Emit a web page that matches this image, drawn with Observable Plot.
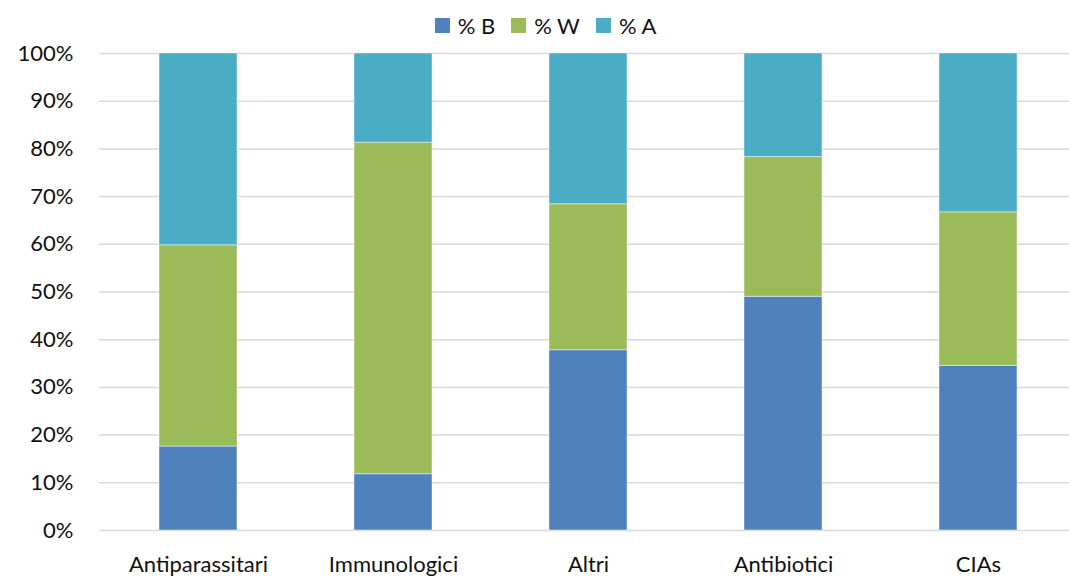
<!DOCTYPE html>
<html>
<head>
<meta charset="utf-8">
<script src="https://cdn.jsdelivr.net/npm/d3@7"></script>
<script src="https://cdn.jsdelivr.net/npm/@observablehq/plot@0.6"></script>
<style>
  html, body { margin: 0; padding: 0; background: #fff; }
  #wrap { position: relative; width: 1069px; height: 580px; font-family: Lato, "Open Sans", sans-serif; }
  #legend { position: absolute; top: 12px; left: 0; width: 1069px; display: flex; justify-content: center; gap: 16px; font-size: 22px; color: #111; padding-left: 22px; box-sizing: border-box; }
  #legend .item { display: flex; align-items: center; gap: 8px; }
  #legend .sw { width: 15px; height: 15px; display: inline-block; }
</style>
</head>
<body>
<div id="wrap">
  <div id="legend"></div>
  <div id="chart"></div>
</div>
<script>
const categories = ["Antiparassitari", "Immunologici", "Altri", "Antibiotici", "CIAs"];
const series = ["% B", "% W", "% A"];
const pctB = [17.6, 11.8, 37.8, 49.0, 34.5];
const pctW = [42.2, 69.5, 30.6, 29.3, 32.2];
const pctA = [40.2, 18.7, 31.6, 21.7, 33.3];
const colors = ["#4F81BD", "#9BBB59", "#4BACC6"];
const yTicks = [0, 10, 20, 30, 40, 50, 60, 70, 80, 90, 100];

const values = [pctB, pctW, pctA];
const data = [];
series.forEach((s, si) => categories.forEach((c, ci) => data.push({cat: c, series: s, value: values[si][ci]})));

const legend = document.getElementById("legend");
series.forEach((s, i) => {
  const it = document.createElement("div");
  it.className = "item";
  it.innerHTML = `<span class="sw" style="background:${colors[i]}"></span><span>${s}</span>`;
  legend.appendChild(it);
});

const chart = Plot.plot({
  width: 1069,
  height: 580,
  marginLeft: 99,
  marginRight: 0,
  marginTop: 53,
  marginBottom: 50,
  style: {fontFamily: "Lato, 'Open Sans', sans-serif", fontSize: "22px", color: "#111", background: "#fff"},
  x: {domain: categories, range: [99, 1077], paddingInner: 0.6, paddingOuter: 0.3, align: 0.5, label: null},
  y: {domain: [0, 100], label: null},
  color: {domain: series, range: colors},
  marks: [
    Plot.ruleY(yTicks, {stroke: "#d9d9d9", strokeWidth: 1.5}),
    Plot.barY(data, Plot.stackY({x: "cat", y: "value", fill: "series", order: series, stroke: "#ffffff", strokeOpacity: 0.45, strokeWidth: 1})),
    Plot.axisY(yTicks, {tickSize: 0, tickPadding: 26, tickFormat: d => d + "%", fontSize: 22}),
    Plot.axisX({tickSize: 0, tickPadding: 26, fontSize: 22})
  ]
});
document.getElementById("chart").appendChild(chart);
</script>
</body>
</html>
